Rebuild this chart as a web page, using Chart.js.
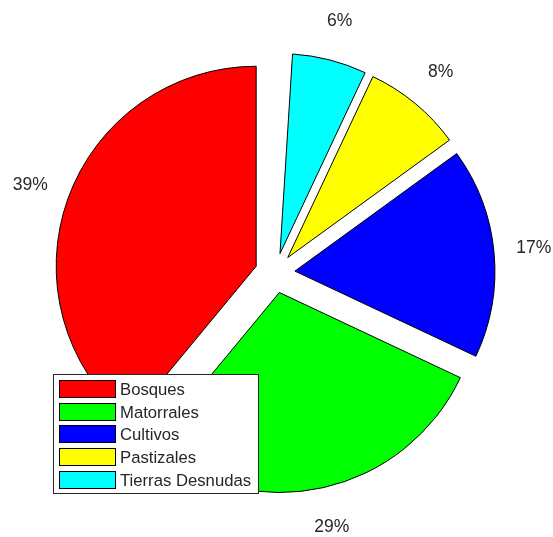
<!DOCTYPE html>
<html>
<head>
<meta charset="utf-8">
<script src="https://cdn.jsdelivr.net/npm/chart.js@4/dist/chart.umd.min.js"></script>
<style>
  html, body { margin: 0; padding: 0; background: #ffffff; }
  #wrap { width: 553px; height: 537px; }
</style>
</head>
<body>
<div id="wrap"><canvas id="c" width="553" height="537"></canvas></div>
<script>
// Land cover shares (percent of total area)
const categories = ['Bosques', 'Matorrales', 'Cultivos', 'Pastizales', 'Tierras Desnudas'];
const shares = [39, 29, 17, 8, 6];
const palette = ['#ff0000', '#00ff00', '#0000ff', '#ffff00', '#00ffff'];

const EXPLODE = 20;      // radial shift of every wedge, px
const RADIUS = 200;      // pie radius, px
const TEXT = '#262626';
const FONT = '"Liberation Sans", Arial, Helvetica, sans-serif';

// Wedges run counter-clockwise from 12 o'clock; Chart.js runs clockwise,
// so the series is fed in reverse.
const idx = categories.map((_, i) => categories.length - 1 - i);
const total = shares.reduce((a, b) => a + b, 0);
const sweep = total / 100 * 360;          // shares are fractions of a whole circle
const startRot = 360 - sweep;

// Pull every wedge straight out along its bisector by the same distance,
// keeping its radius and angles unchanged.
const explode = {
  id: 'explode',
  afterDatasetsUpdate(chart) {
    chart.getDatasetMeta(0).data.forEach(arc => {
      const mid = (arc.startAngle + arc.endAngle) / 2;
      arc.x += Math.cos(mid) * EXPLODE;
      arc.y += Math.sin(mid) * EXPLODE;
    });
  }
};

const pctLabels = {
  id: 'pctLabels',
  afterDatasetsDraw(chart) {
    const meta = chart.getDatasetMeta(0);
    const g = chart.ctx;
    g.save();
    g.fillStyle = TEXT;
    g.font = '17.5px ' + FONT;
    g.textAlign = 'center';
    g.textBaseline = 'middle';
    meta.data.forEach((arc, i) => {
      const mid = (arc.startAngle + arc.endAngle) / 2;
      const d = arc.outerRadius * 1.2;
      const v = chart.data.datasets[0].data[i];
      g.fillText(Math.round(v) + '%', arc.x + Math.cos(mid) * d, arc.y + Math.sin(mid) * d);
    });
    g.restore();
  }
};

const boxLegend = {
  id: 'boxLegend',
  afterDraw(chart) {
    const g = chart.ctx;
    const x0 = 53.5, y0 = 374.5, w = 205, h = 119;
    const rowH = 22.7, sw = 56, sh = 17;
    g.save();
    g.fillStyle = '#ffffff';
    g.fillRect(x0, y0, w, h);
    g.strokeStyle = TEXT;
    g.lineWidth = 1;
    g.strokeRect(x0, y0, w, h);
    g.font = '16.7px ' + FONT;
    g.textAlign = 'left';
    g.textBaseline = 'alphabetic';
    categories.forEach((name, i) => {
      const top = 380 + i * rowH;
      g.fillStyle = palette[i];
      g.fillRect(59.5, Math.round(top) + 0.5, sw, sh);
      g.strokeStyle = '#000000';
      g.strokeRect(59.5, Math.round(top) + 0.5, sw, sh);
      g.fillStyle = TEXT;
      g.fillText(name, 120, top + 15);
    });
    g.restore();
  }
};

new Chart(document.getElementById('c'), {
  type: 'pie',
  data: {
    labels: idx.map(i => categories[i]),
    datasets: [{
      data: idx.map(i => shares[i]),
      backgroundColor: idx.map(i => palette[i]),
      borderColor: '#000000',
      borderWidth: 1,
      offset: 0,
      hoverOffset: 0
    }]
  },
  options: {
    responsive: false,
    maintainAspectRatio: false,
    devicePixelRatio: 1,
    animation: false,
    events: [],
    rotation: startRot,
    circumference: sweep,
    radius: RADIUS,
    layout: { padding: { left: 0, right: 3, top: 9, bottom: 0 } },
    plugins: {
      legend: { display: false },
      tooltip: { enabled: false },
      title: { display: false }
    }
  },
  plugins: [explode, pctLabels, boxLegend]
});
</script>
</body>
</html>
